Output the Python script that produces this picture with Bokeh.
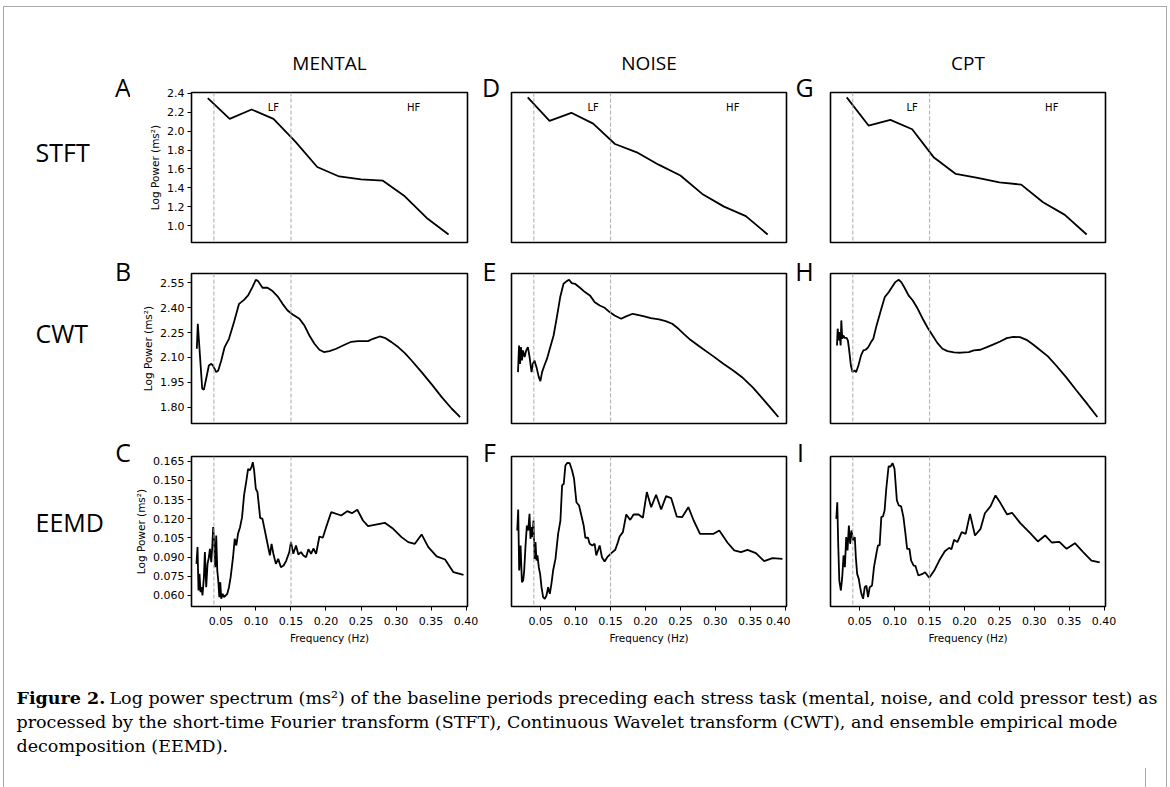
from bokeh.plotting import figure
from bokeh.layouts import column, row
from bokeh.models import Span, FixedTicker, NumeralTickFormatter, Range1d
from bokeh.core.properties import value
from bokeh.embed import file_html
from bokeh.resources import INLINE

# ---------------- data ----------------
tasks = ["MENTAL", "NOISE", "CPT"]
methods = ["STFT", "CWT", "EEMD"]
panel_letters = [["A", "D", "G"], ["B", "E", "H"], ["C", "F", "I"]]

stft_freq = [0.03125, 0.0625, 0.09375, 0.125, 0.15625, 0.1875, 0.21875, 0.25, 0.28125, 0.3125, 0.34375, 0.375]
stft_mental = [2.35, 2.13, 2.23, 2.13, 1.89, 1.62, 1.52, 1.49, 1.475, 1.31, 1.08, 0.905]
stft_noise = [2.358, 2.11, 2.195, 2.08, 1.864, 1.776, 1.645, 1.53, 1.335, 1.20, 1.10, 0.905]
stft_cpt = [2.358, 2.06, 2.12, 2.02, 1.72, 1.547, 1.504, 1.458, 1.434, 1.247, 1.113, 0.905]

cwt_mental_f = [0.0156, 0.0170, 0.0233, 0.0257, 0.0304, 0.0328, 0.0362, 0.0386, 0.0410, 0.0433, 0.0462, 0.0505,
                0.0553, 0.0615, 0.0687, 0.0759, 0.0830, 0.0888, 0.0950, 0.0998, 0.1031, 0.1093, 0.1165, 0.1237,
                0.1309, 0.1380, 0.1452, 0.1524, 0.1620, 0.1691, 0.1763, 0.1835, 0.1906, 0.1969, 0.2050, 0.2146,
                0.2265, 0.2361, 0.2456, 0.2600, 0.2672, 0.2767, 0.2839, 0.2935, 0.3030, 0.3126, 0.3222, 0.3365,
                0.3509, 0.3652, 0.3796, 0.3915]
cwt_mental = [2.152, 2.303, 1.911, 1.905, 2.001, 2.051, 2.061, 2.051, 2.031, 2.011, 2.021, 2.081,
              2.162, 2.212, 2.313, 2.423, 2.447, 2.474, 2.524, 2.568, 2.560, 2.520, 2.520, 2.500,
              2.468, 2.423, 2.383, 2.359, 2.333, 2.293, 2.232, 2.182, 2.146, 2.132, 2.138, 2.152,
              2.176, 2.194, 2.198, 2.198, 2.212, 2.226, 2.218, 2.192, 2.162, 2.126, 2.081, 2.011,
              1.937, 1.860, 1.790, 1.740]

cwt_noise_f = [0.0173, 0.0188, 0.0202, 0.0216, 0.0230, 0.0244, 0.0268, 0.0291, 0.0315, 0.0339,
               0.0367, 0.0386, 0.0409, 0.0438, 0.0471, 0.0494, 0.0518, 0.0551, 0.0589, 0.0636,
               0.0683, 0.0730, 0.0778, 0.0825, 0.0872, 0.0905, 0.0943, 0.0990, 0.1061, 0.1132,
               0.1203, 0.1273, 0.1344, 0.1415, 0.1486, 0.1557, 0.1651, 0.1722, 0.1816, 0.1887,
               0.1982, 0.2076, 0.2194, 0.2289, 0.2383, 0.2454, 0.2548, 0.2643, 0.2784, 0.2973,
               0.3115, 0.3256, 0.3398, 0.3540, 0.3681, 0.3823, 0.3903]
cwt_noise = [2.011, 2.172, 2.061, 2.162, 2.081, 2.142, 2.102, 2.142, 2.162, 2.102,
             2.011, 2.061, 2.081, 2.041, 1.981, 1.957, 2.011, 2.051, 2.092, 2.162,
             2.232, 2.343, 2.464, 2.544, 2.560, 2.568, 2.548, 2.544, 2.520, 2.494,
             2.474, 2.433, 2.413, 2.399, 2.373, 2.353, 2.333, 2.347, 2.363, 2.357,
             2.347, 2.337, 2.329, 2.319, 2.303, 2.279, 2.242, 2.206, 2.162, 2.106,
             2.061, 2.021, 1.975, 1.917, 1.850, 1.780, 1.740]

cwt_cpt_f = [0.0173, 0.0183, 0.0197, 0.0211, 0.0225, 0.0235, 0.0249, 0.0263, 0.0282, 0.0310,
             0.0329, 0.0348, 0.0372, 0.0395, 0.0424, 0.0447, 0.0480, 0.0518, 0.0551, 0.0584,
             0.0622, 0.0660, 0.0693, 0.0740, 0.0801, 0.0858, 0.0915, 0.0962, 0.1009, 0.1056,
             0.1094, 0.1141, 0.1198, 0.1259, 0.1330, 0.1401, 0.1472, 0.1543, 0.1613, 0.1684,
             0.1755, 0.1849, 0.1944, 0.2062, 0.2133, 0.2227, 0.2322, 0.2416, 0.2510, 0.2605,
             0.2699, 0.2794, 0.2888, 0.2983, 0.3077, 0.3195, 0.3313, 0.3455, 0.3596, 0.3738,
             0.3903]
cwt_cpt = [2.172, 2.273, 2.202, 2.252, 2.172, 2.323, 2.212, 2.232, 2.218, 2.218,
           2.202, 2.142, 2.051, 2.011, 2.021, 2.011, 2.051, 2.112, 2.142, 2.146,
           2.162, 2.192, 2.212, 2.293, 2.383, 2.464, 2.494, 2.524, 2.554, 2.568,
           2.554, 2.520, 2.474, 2.443, 2.393, 2.333, 2.279, 2.232, 2.186, 2.152,
           2.138, 2.130, 2.128, 2.132, 2.142, 2.146, 2.162, 2.178, 2.196, 2.216,
           2.224, 2.222, 2.206, 2.178, 2.146, 2.106, 2.051, 1.981, 1.905, 1.830,
           1.740]

eemd_mental_f = [0.0151, 0.0166, 0.0180, 0.0194, 0.0209, 0.0223, 0.0237, 0.0257, 0.0271, 0.0290,
                 0.0309, 0.0328, 0.0343, 0.0362, 0.0376, 0.0390, 0.0405, 0.0419, 0.0433, 0.0448,
                 0.0462, 0.0477, 0.0491, 0.0505, 0.0524, 0.0543, 0.0567, 0.0591, 0.0615, 0.0639,
                 0.0673, 0.0697, 0.0720, 0.0744, 0.0773, 0.0802, 0.0830, 0.0864, 0.0888, 0.0912,
                 0.0936, 0.0955, 0.0974, 0.0998, 0.1022, 0.1060, 0.1093, 0.1127, 0.1165, 0.1199,
                 0.1223, 0.1251, 0.1285, 0.1318, 0.1356, 0.1395, 0.1433, 0.1476, 0.1500, 0.1533,
                 0.1572, 0.1605, 0.1643, 0.1677, 0.1715, 0.1749, 0.1787, 0.1820, 0.1859, 0.1906,
                 0.1954, 0.2002, 0.2074, 0.2217, 0.2303, 0.2370, 0.2447, 0.2528, 0.2600, 0.2839,
                 0.2959, 0.3078, 0.3174, 0.3269, 0.3365, 0.3461, 0.3580, 0.3700, 0.3819, 0.3963]
eemd_mental = [0.0847, 0.0978, 0.0639, 0.0769, 0.0626, 0.0665, 0.0600, 0.0743, 0.0939, 0.0665,
               0.0847, 0.0899, 0.0965, 0.0860, 0.0978, 0.1134, 0.1004, 0.0821, 0.1069, 0.0795,
               0.0717, 0.0587, 0.0704, 0.0574, 0.0613, 0.0587, 0.0600, 0.0613, 0.0665, 0.0743,
               0.0899, 0.1043, 0.0991, 0.1082, 0.1134, 0.1212, 0.1382, 0.1499, 0.1590, 0.1577,
               0.1603, 0.1642, 0.1577, 0.1434, 0.1408, 0.1207, 0.1199, 0.1108, 0.1004, 0.0913,
               0.1004, 0.0920, 0.0847, 0.0886, 0.0821, 0.0834, 0.0873, 0.0939, 0.1017, 0.0926,
               0.0991, 0.0920, 0.0939, 0.0913, 0.0899, 0.0962, 0.0926, 0.0967, 0.0926, 0.1061,
               0.1051, 0.1134, 0.1251, 0.1225, 0.1259, 0.1243, 0.1270, 0.1186, 0.1142, 0.1168,
               0.1121, 0.1056, 0.1017, 0.1004, 0.1077, 0.0978, 0.0905, 0.0881, 0.0782, 0.0761]

eemd_noise_f = [0.0162, 0.0176, 0.0190, 0.0210, 0.0229, 0.0248, 0.0262, 0.0281, 0.0300, 0.0319,
                0.0338, 0.0352, 0.0367, 0.0381, 0.0395, 0.0410, 0.0424, 0.0438, 0.0452, 0.0471,
                0.0490, 0.0510, 0.0533, 0.0557, 0.0581, 0.0605, 0.0629, 0.0652, 0.0676, 0.0710,
                0.0748, 0.0781, 0.0805, 0.0829, 0.0852, 0.0881, 0.0914, 0.0948, 0.0976, 0.1010,
                0.1048, 0.1081, 0.1114, 0.1138, 0.1176, 0.1200, 0.1238, 0.1271, 0.1295, 0.1343,
                0.1376, 0.1414, 0.1452, 0.1510, 0.1567, 0.1605, 0.1629, 0.1676, 0.1724, 0.1781,
                0.1829, 0.1900, 0.1962, 0.2019, 0.2081, 0.2152, 0.2224, 0.2295, 0.2367, 0.2448,
                0.2524, 0.2614, 0.2690, 0.2781, 0.2881, 0.2976, 0.3057, 0.3176, 0.3271, 0.3367,
                0.3462, 0.3581, 0.3700, 0.3819, 0.3962]
eemd_noise = [0.1108, 0.1272, 0.0795, 0.0991, 0.0704, 0.0717, 0.0795, 0.0991, 0.1147, 0.1108,
              0.1238, 0.1043, 0.1134, 0.1056, 0.1186, 0.0886, 0.1017, 0.0873, 0.0913, 0.0821,
              0.0769, 0.0665, 0.0587, 0.0574, 0.0600, 0.0665, 0.0613, 0.0691, 0.0795, 0.0886,
              0.1082, 0.1186, 0.1460, 0.1473, 0.1616, 0.1637, 0.1634, 0.1577, 0.1512, 0.1329,
              0.1303, 0.1225, 0.1147, 0.1051, 0.1051, 0.1004, 0.0991, 0.1004, 0.0913, 0.0991,
              0.0899, 0.0866, 0.0899, 0.0931, 0.0957, 0.1017, 0.1061, 0.1095, 0.1233, 0.1191,
              0.1233, 0.1233, 0.1207, 0.1408, 0.1290, 0.1387, 0.1272, 0.1376, 0.1361, 0.1217,
              0.1212, 0.1290, 0.1186, 0.1082, 0.1082, 0.1082, 0.1108, 0.1012, 0.0952, 0.0939,
              0.0957, 0.0931, 0.0868, 0.0892, 0.0886]

eemd_cpt_f = [0.0163, 0.0177, 0.0191, 0.0206, 0.0229, 0.0248, 0.0267, 0.0286, 0.0305, 0.0324,
              0.0343, 0.0362, 0.0381, 0.0405, 0.0428, 0.0443, 0.0462, 0.0485, 0.0504, 0.0523,
              0.0547, 0.0571, 0.0594, 0.0618, 0.0642, 0.0675, 0.0703, 0.0737, 0.0760, 0.0784,
              0.0808, 0.0831, 0.0855, 0.0879, 0.0912, 0.0941, 0.0969, 0.0997, 0.1031, 0.1059,
              0.1092, 0.1125, 0.1154, 0.1178, 0.1211, 0.1235, 0.1272, 0.1296, 0.1339, 0.1400,
              0.1434, 0.1495, 0.1566, 0.1638, 0.1718, 0.1780, 0.1813, 0.1851, 0.1898, 0.1960,
              0.2017, 0.2079, 0.2150, 0.2230, 0.2292, 0.2372, 0.2444, 0.2515, 0.2610, 0.2681,
              0.2799, 0.2941, 0.3051, 0.3155, 0.3250, 0.3359, 0.3463, 0.3582, 0.3700, 0.3819,
              0.3937]
eemd_cpt = [0.1199, 0.1329, 0.0991, 0.0717, 0.0639, 0.0743, 0.0913, 0.0821, 0.1056, 0.0952,
            0.1147, 0.1004, 0.1108, 0.1030, 0.1056, 0.0899, 0.0769, 0.0730, 0.0665, 0.0613,
            0.0574, 0.0665, 0.0678, 0.0587, 0.0665, 0.0678, 0.0821, 0.0926, 0.0991, 0.0991,
            0.1212, 0.1217, 0.1264, 0.1434, 0.1608, 0.1608, 0.1634, 0.1590, 0.1342, 0.1303,
            0.1296, 0.1212, 0.1082, 0.0965, 0.0965, 0.0873, 0.0834, 0.0832, 0.0756, 0.0769,
            0.0782, 0.0738, 0.0795, 0.0873, 0.0946, 0.0972, 0.0962, 0.1035, 0.1017, 0.1095,
            0.1082, 0.1238, 0.1069, 0.1121, 0.1243, 0.1296, 0.1382, 0.1322, 0.1233, 0.1246,
            0.1165, 0.1087, 0.1022, 0.1069, 0.1014, 0.1019, 0.0965, 0.1009, 0.0939, 0.0873,
            0.0858]

band_edges = [0.04, 0.15]
band_names = ["LF", "HF"]
band_label_x = [0.125, 0.325]
band_label_y = 2.25

x_ticks = [0.05, 0.10, 0.15, 0.20, 0.25, 0.30, 0.35, 0.40]
y_ticks = [[1.0, 1.2, 1.4, 1.6, 1.8, 2.0, 2.2, 2.4],
           [1.80, 1.95, 2.10, 2.25, 2.40, 2.55],
           [0.060, 0.075, 0.090, 0.105, 0.120, 0.135, 0.150, 0.165]]
y_formats = ["0.0", "0.00", "0.000"]
y_limits = [(0.82, 2.41), (1.701, 2.606), (0.0514, 0.1686)]
x_limits = (0.008, 0.402)

series = [
    [(stft_freq, stft_mental), (stft_freq, stft_noise), (stft_freq, stft_cpt)],
    [(cwt_mental_f, cwt_mental), (cwt_noise_f, cwt_noise), (cwt_cpt_f, cwt_cpt)],
    [(eemd_mental_f, eemd_mental), (eemd_noise_f, eemd_noise), (eemd_cpt_f, eemd_cpt)],
]

caption_bold = "Figure 2."
caption_lines = [
    "Log power spectrum (ms\u00b2) of the baseline periods preceding each stress task (mental, noise, and cold pressor test) as",
    "processed by the short-time Fourier transform (STFT), Continuous Wavelet transform (CWT), and ensemble empirical mode",
    "decomposition (EEMD).",
]

# ---------------- layout ----------------
SANS = "Open Sans"
TICK = "DejaVu Sans"
SERIF = "DejaVu Serif"

LABEL_W = 130
GAP_W = [27, 35]
col_border = [(61, 11), (6, 4), (5, 65)]
frame_w = [276, 275, 275]
row_border = [(92, 10), (21, 9), (24, 44)]
FRAME_H = 150
row_h = [t + FRAME_H + b for t, b in row_border]

# text anchor positions inside each text strip (strip pixels, origin bottom-left)
rowlabel_y = [101, 100, 129]
letter_y = [166, 162, 199]
letter_x = [[122.5, 12.5, 14], [122.5, 11, 14], [122.5, 11, 10]]


def text_strip(w, h):
    f = figure(width=w, height=h, x_range=Range1d(0, w), y_range=Range1d(0, h),
               x_axis_location=None, y_axis_location=None, min_border=0, title=None,
               output_backend="svg", toolbar_location=None)
    f.frame_align = False
    f.border_fill_color = None
    f.background_fill_color = None
    f.outline_line_color = None
    for g in f.grid:
        g.visible = False
    return f


def put_text(f, x, y, t, size, align="center", font=SANS, style="normal"):
    f.text(x=[x], y=[y], text=[t], text_font=value(font), text_font_size=size,
           text_font_style=style, text_align=align, text_baseline="middle", text_color="black")


rows = []
for r in range(3):
    figs = []
    strip = text_strip(LABEL_W, row_h[r])
    put_text(strip, 35, rowlabel_y[r], methods[r], "25px", align="left")
    put_text(strip, letter_x[r][0], letter_y[r], panel_letters[r][0], "25px")
    figs.append(strip)
    for c in range(3):
        left, right = col_border[c]
        top, bottom = row_border[r]
        p = figure(frame_width=frame_w[c], frame_height=FRAME_H,
                   x_range=Range1d(*x_limits), y_range=Range1d(*y_limits[r]),
                   x_axis_location="below" if r == 2 else None,
                   y_axis_location="left" if c == 0 else None,
                   min_border_left=left, min_border_right=right,
                   min_border_top=top, min_border_bottom=bottom,
                   output_backend="svg", toolbar_location=None)
        p.border_fill_color = None
        p.background_fill_color = "white"
        p.outline_line_color = "black"
        p.outline_line_width = 1.6
        for g in p.grid:
            g.visible = False
        for ax in list(p.xaxis) + list(p.yaxis):
            ax.axis_line_color = None
            ax.major_tick_in = 0
            ax.major_tick_out = 4
            ax.major_tick_line_color = "black"
            ax.major_tick_line_width = 1
            ax.minor_tick_line_color = None
            ax.major_label_text_font = TICK
            ax.major_label_text_font_size = "11px"
            ax.major_label_text_color = "black"
            ax.axis_label_text_font = TICK
            ax.axis_label_text_font_size = "10.5px"
            ax.axis_label_text_font_style = "normal"
            ax.axis_label_text_color = "black"
        if r == 2:
            xa = p.xaxis[0]
            xa.ticker = FixedTicker(ticks=x_ticks)
            xa.formatter = NumeralTickFormatter(format="0.00")
            xa.axis_label = "Frequency (Hz)"
            xa.major_label_standoff = 6
            xa.axis_label_standoff = 4
        if c == 0:
            ya = p.yaxis[0]
            ya.ticker = FixedTicker(ticks=y_ticks[r])
            ya.formatter = NumeralTickFormatter(format=y_formats[r])
            ya.axis_label = "Log Power (ms\u00b2)"
            ya.major_label_standoff = 3
            ya.axis_label_standoff = 3
        if r == 0:
            p.title.text = tasks[c]
            p.title.align = "center"
            p.title.text_font = SANS
            p.title.text_font_size = "19px"
            p.title.text_font_style = "normal"
            p.title.text_color = "black"
            p.title.standoff = 33

        for e in band_edges:
            p.add_layout(Span(location=e, dimension="height", line_color="#a9a9a9",
                              line_dash="4 2", line_width=1))
        fx, fy = series[r][c]
        p.line(fx, fy, line_color="black", line_width=1.8)

        if r == 0:
            p.text(x=band_label_x, y=[band_label_y] * 2, text=band_names,
                   text_font=value(TICK), text_font_size="10px", text_align="center",
                   text_baseline="middle", text_color="black")
        figs.append(p)
        if c < 2:
            gap = text_strip(GAP_W[c], row_h[r])
            put_text(gap, letter_x[r][c + 1], letter_y[r], panel_letters[r][c + 1], "25px")
            figs.append(gap)
    rows.append(row(*figs))

CAP_H = 137
cap = text_strip(1170, CAP_H)
put_text(cap, 16, 90, caption_bold, "17.5px", align="left", font=SERIF, style="bold")
put_text(cap, 109, 90, caption_lines[0], "17.5px", align="left", font=SERIF)
put_text(cap, 16, 66, caption_lines[1], "17.5px", align="left", font=SERIF)
put_text(cap, 16, 42, caption_lines[2], "17.5px", align="left", font=SERIF)

g = "linear-gradient(#a8a8a8,#a8a8a8)"
page = column(*rows, cap, styles={
    "background-image": ", ".join([g] * 4),
    "background-position": "3px 6px, 3px 6px, 1166px 6px, 1145px 768px",
    "background-size": "1164px 1px, 1px 781px, 1px 781px, 1px 19px",
    "background-repeat": "no-repeat",
})

open("out.html", "w").write(file_html(page, INLINE))
